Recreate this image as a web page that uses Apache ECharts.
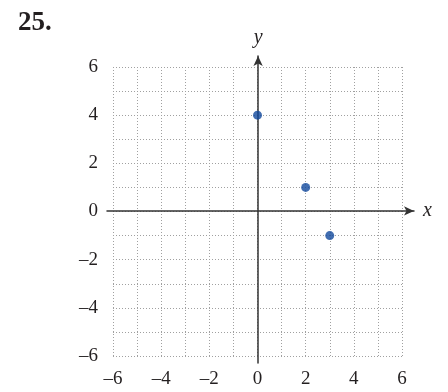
<!DOCTYPE html>
<html>
<head>
<meta charset="utf-8">
<script src="https://cdn.jsdelivr.net/npm/echarts@6/dist/echarts.min.js"></script>
<style>
  html, body { margin: 0; padding: 0; background: #fff; }
  #chart { width: 448px; height: 392px; }
</style>
</head>
<body>
<div id="chart"></div>
<script>
// plotted points
const xValues = [0, 2, 3];
const yValues = [4, 1, -1];
const points = xValues.map((x, i) => [x, yValues[i]]);

const serif = '"Liberation Serif", "DejaVu Serif", serif';
// only even ticks get a label
const fmt = v => (v % 2 !== 0 ? '' : (v < 0 ? '\u2013' + Math.abs(v) : String(v)));
const gridLine = { show: true, lineStyle: { color: '#a0a0a0', type: [1, 2], width: 1 } };

const chart = echarts.init(document.getElementById('chart'));
const option = {
    animation: false,
    title: {
        text: '25.',
        left: 13,
        top: 5,
        textStyle: { fontFamily: serif, fontSize: 27, fontWeight: 'bold', color: '#231f20' }
    },
    grid: [
        // dotted grid + labels
        { left: 113, top: 67, width: 289, height: 289 },
        // main axes with arrows
        { left: 107, top: 56, width: 307, height: 307 }
    ],
    xAxis: [
        {
            gridIndex: 0, type: 'value', min: -6, max: 6, interval: 1,
            axisLine: { show: false }, axisTick: { show: false },
            axisLabel: { margin: 14, formatter: fmt,
                fontFamily: serif, fontSize: 19, color: '#231f20',
                showMinLabel: true, showMaxLabel: true },
            splitLine: gridLine
        },
        {
            gridIndex: 1, type: 'value', min: -6.27, max: 6.47,
            axisLine: { show: true, onZero: true, symbol: ['none', 'arrow'], symbolSize: [7, 10],
                lineStyle: { color: '#333', width: 1.5 } },
            axisTick: { show: false }, axisLabel: { show: false }, splitLine: { show: false },
            name: 'x', nameLocation: 'end', nameGap: 9,
            nameTextStyle: { fontFamily: serif, fontStyle: 'italic', fontSize: 20, color: '#231f20' }
        }
    ],
    yAxis: [
        {
            gridIndex: 0, type: 'value', min: -6, max: 6, interval: 1,
            axisLine: { show: false }, axisTick: { show: false },
            axisLabel: { margin: 15, formatter: fmt,
                fontFamily: serif, fontSize: 19, color: '#231f20',
                showMinLabel: true, showMaxLabel: true },
            splitLine: gridLine
        },
        {
            gridIndex: 1, type: 'value', min: -6.32, max: 6.44,
            axisLine: { show: true, onZero: true, symbol: ['none', 'arrow'], symbolSize: [7, 10],
                lineStyle: { color: '#333', width: 1.5 } },
            axisTick: { show: false }, axisLabel: { show: false }, splitLine: { show: false },
            name: 'y', nameLocation: 'end', nameGap: 8,
            nameTextStyle: { fontFamily: serif, fontStyle: 'italic', fontSize: 20, color: '#231f20' }
        }
    ],
    series: [
        {
            type: 'scatter',
            xAxisIndex: 0,
            yAxisIndex: 0,
            data: points,
            symbolSize: 9,
            z: 10,
            clip: false,
            itemStyle: { color: '#12499c' }
        }
    ]
};
chart.setOption(option);
</script>
</body>
</html>
